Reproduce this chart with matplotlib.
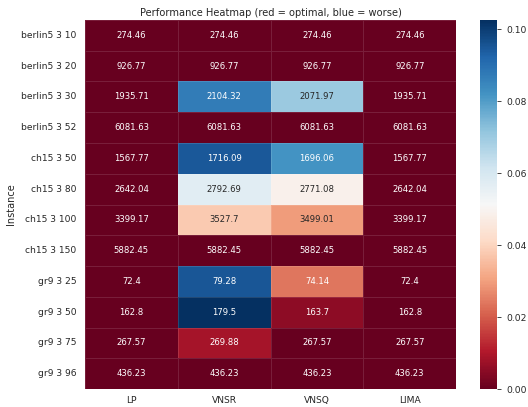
import numpy as np
import pandas as pd
import matplotlib
matplotlib.use('Agg')
import matplotlib.pyplot as plt
import seaborn as sns

instances = ["berlin5 3 10", "berlin5 3 20", "berlin5 3 30", "berlin5 3 52",
             "ch15 3 50", "ch15 3 80", "ch15 3 100", "ch15 3 150",
             "gr9 3 25", "gr9 3 50", "gr9 3 75", "gr9 3 96"]
methods = ["LP", "VNSR", "VNSQ", "LIMA"]

lp = [274.46, 926.77, 1935.71, 6081.63, 1567.77, 2642.04, 3399.17, 5882.45,
      72.4, 162.8, 267.57, 436.23]
vnsr = [274.46, 926.77, 2104.32, 6081.63, 1716.09, 2792.69, 3527.7, 5882.45,
        79.28, 179.5, 269.88, 436.23]
vnsq = [274.46, 926.77, 2071.97, 6081.63, 1696.06, 2771.08, 3499.01, 5882.45,
        74.14, 163.7, 267.57, 436.23]
lima = [274.46, 926.77, 1935.71, 6081.63, 1567.77, 2642.04, 3399.17, 5882.45,
        72.4, 162.8, 267.57, 436.23]

df = pd.DataFrame({"LP": lp, "VNSR": vnsr, "VNSQ": vnsq, "LIMA": lima},
                  index=instances)[methods]

# relative gap to the best value of each instance
best = df.min(axis=1)
gap = df.sub(best, axis=0).div(best, axis=0)

sns.set_theme(style="white")
fig = plt.figure(figsize=(5.28, 4.07), dpi=100)
ax = fig.add_axes([0.161, 0.044, 0.703, 0.907])
cax = fig.add_axes([0.909, 0.044, 0.032, 0.907])

sns.heatmap(gap, annot=df, fmt="g", cmap="RdBu", vmin=0, ax=ax, cbar_ax=cax,
            linewidths=0.4, linecolor=(1, 1, 1, 0.12),
            annot_kws={"fontsize": 6.1})

ax.set_title("Performance Heatmap (red = optimal, blue = worse)", fontsize=7.1, pad=3)
ax.set_ylabel("Instance", fontsize=7, labelpad=4)
ax.set_xlabel("")
ax.tick_params(axis="both", labelsize=6.6, length=0, pad=6)
ax.tick_params(axis="x", pad=5)
plt.setp(ax.get_yticklabels(), rotation=0)
cax.tick_params(labelsize=6.6, length=3, width=0.6)
cax.yaxis.set_major_locator(matplotlib.ticker.MultipleLocator(0.02))

fig.savefig("out.png", dpi=100)
